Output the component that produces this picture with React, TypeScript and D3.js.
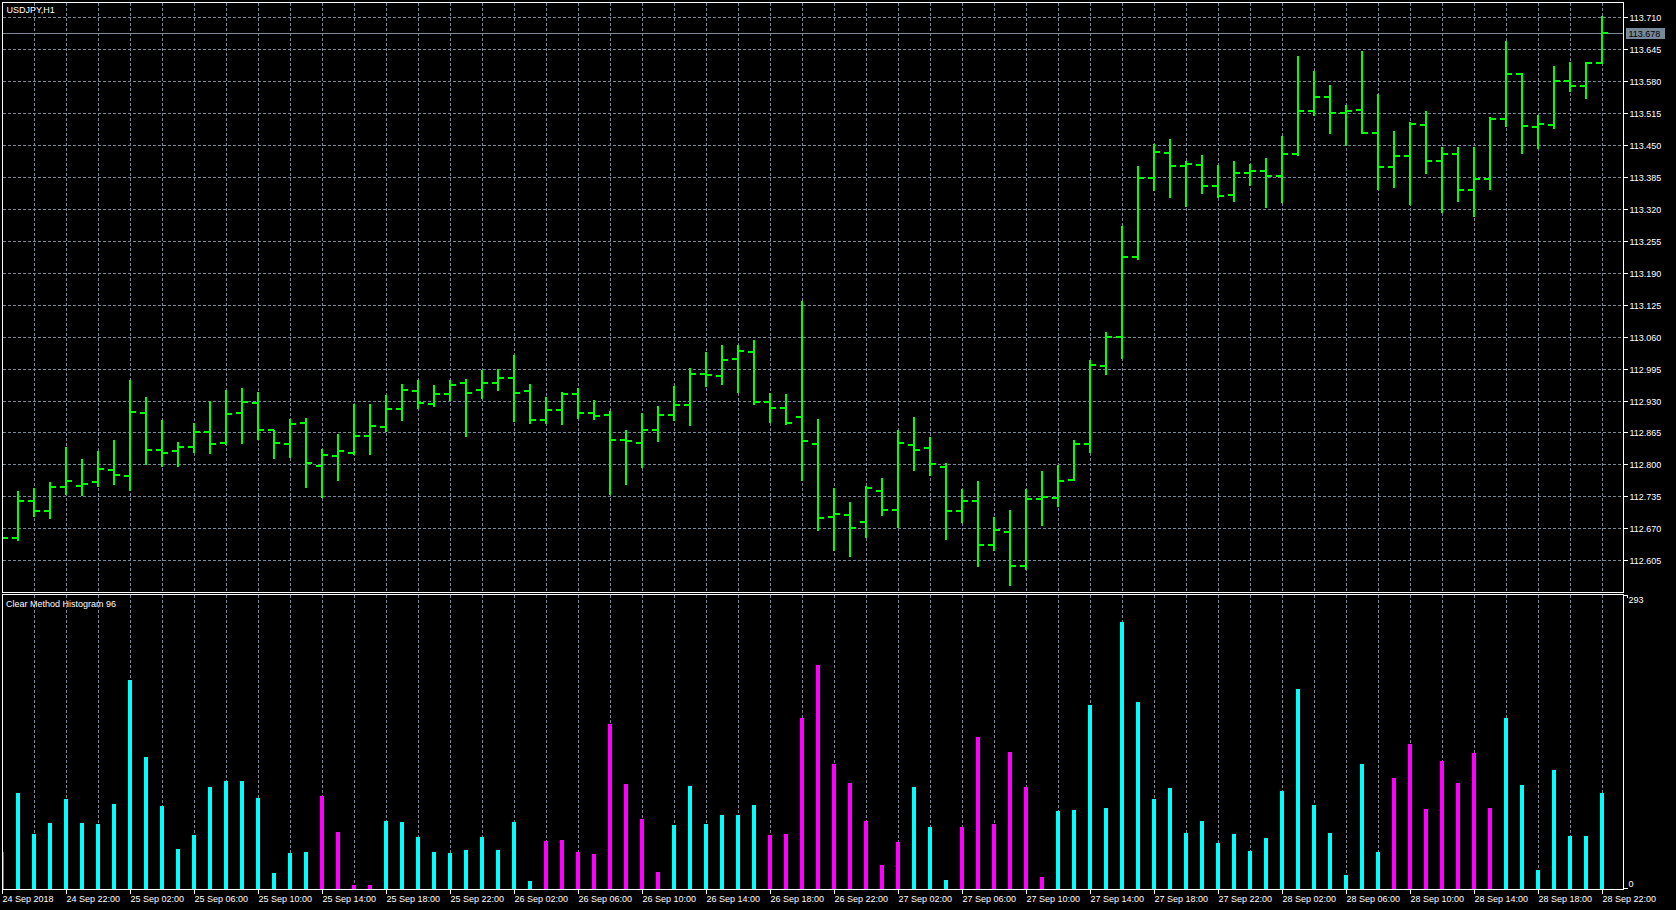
import React from "react";
import * as d3 from "d3";

// ---- Data (USDJPY H1, 24 Sep 2018 18:00 .. 28 Sep 2018 22:00) ----
const opens = [
  112.655, 112.650, 112.726, 112.706, 112.753, 112.757, 112.765, 112.789, 112.777, 112.905,
  112.830, 112.828, 112.836, 112.866, 112.844, 112.905, 112.925, 112.870, 112.842, 112.885,
  112.797, 112.818, 112.824, 112.858, 112.877, 112.913, 112.950, 112.923, 112.944, 112.966,
  112.952, 112.966, 112.976, 112.950, 112.891, 112.911, 112.944, 112.905, 112.901, 112.850,
  112.844, 112.870, 112.901, 112.921, 112.984, 112.980, 113.015, 113.029, 112.927, 112.915,
  112.897, 112.842, 112.692, 112.696, 112.682, 112.745, 112.708, 112.840, 112.834, 112.795,
  112.706, 112.726, 112.635, 112.663, 112.594, 112.730, 112.732, 112.769, 112.842, 113.000,
  113.059, 113.223, 113.382, 113.433, 113.407, 113.409, 113.366, 113.348, 113.394, 113.397,
  113.386, 113.431, 113.520, 113.547, 113.516, 113.522, 113.474, 113.405, 113.428, 113.490,
  113.417, 113.431, 113.358, 113.380, 113.502, 113.594, 113.486, 113.490, 113.581, 113.571,
  113.617,
];
const highs = [
  112.660, 112.746, 112.752, 112.764, 112.835, 112.811, 112.827, 112.849, 112.971, 112.937,
  112.890, 112.845, 112.884, 112.930, 112.951, 112.955, 112.947, 112.870, 112.892, 112.894,
  112.831, 112.862, 112.923, 112.923, 112.941, 112.963, 112.971, 112.961, 112.971, 112.973,
  112.992, 112.994, 113.022, 112.963, 112.937, 112.947, 112.956, 112.931, 112.909, 112.870,
  112.904, 112.919, 112.959, 112.996, 113.029, 113.042, 113.042, 113.053, 112.946, 112.943,
  113.132, 112.892, 112.752, 112.723, 112.756, 112.772, 112.870, 112.896, 112.856, 112.803,
  112.749, 112.766, 112.693, 112.707, 112.750, 112.786, 112.799, 112.849, 113.012, 113.069,
  113.286, 113.408, 113.453, 113.463, 113.418, 113.430, 113.409, 113.418, 113.411, 113.424,
  113.469, 113.631, 113.601, 113.573, 113.532, 113.642, 113.554, 113.479, 113.496, 113.520,
  113.445, 113.445, 113.447, 113.508, 113.662, 113.596, 113.512, 113.611, 113.619, 113.619,
  113.713,
];
const lows = [
  112.645, 112.646, 112.694, 112.690, 112.740, 112.738, 112.757, 112.761, 112.747, 112.801,
  112.797, 112.797, 112.826, 112.824, 112.841, 112.844, 112.852, 112.814, 112.816, 112.755,
  112.733, 112.769, 112.822, 112.822, 112.868, 112.891, 112.915, 112.919, 112.931, 112.858,
  112.935, 112.952, 112.889, 112.885, 112.885, 112.883, 112.895, 112.893, 112.740, 112.761,
  112.795, 112.848, 112.891, 112.881, 112.960, 112.964, 112.948, 112.923, 112.887, 112.883,
  112.769, 112.666, 112.625, 112.614, 112.653, 112.696, 112.673, 112.789, 112.779, 112.649,
  112.682, 112.594, 112.625, 112.554, 112.588, 112.677, 112.716, 112.769, 112.826, 112.984,
  113.017, 113.218, 113.358, 113.344, 113.325, 113.352, 113.344, 113.336, 113.368, 113.323,
  113.334, 113.429, 113.512, 113.474, 113.451, 113.474, 113.360, 113.364, 113.329, 113.394,
  113.313, 113.336, 113.305, 113.360, 113.488, 113.433, 113.443, 113.484, 113.561, 113.545,
  113.616,
];
const closes = [
  112.650, 112.726, 112.706, 112.753, 112.767, 112.761, 112.791, 112.779, 112.907, 112.830,
  112.823, 112.836, 112.866, 112.842, 112.903, 112.927, 112.870, 112.844, 112.883, 112.803,
  112.820, 112.828, 112.858, 112.879, 112.913, 112.952, 112.925, 112.944, 112.962, 112.946,
  112.966, 112.976, 112.946, 112.891, 112.911, 112.944, 112.905, 112.899, 112.850, 112.848,
  112.870, 112.901, 112.921, 112.984, 112.982, 113.013, 113.031, 112.927, 112.915, 112.885,
  112.848, 112.690, 112.700, 112.671, 112.751, 112.708, 112.844, 112.830, 112.801, 112.706,
  112.726, 112.635, 112.667, 112.594, 112.730, 112.734, 112.767, 112.842, 113.002, 113.059,
  113.223, 113.382, 113.435, 113.407, 113.411, 113.366, 113.346, 113.394, 113.397, 113.386,
  113.431, 113.520, 113.547, 113.516, 113.520, 113.474, 113.405, 113.428, 113.493, 113.417,
  113.431, 113.358, 113.380, 113.504, 113.594, 113.488, 113.492, 113.581, 113.571, 113.617,
  113.678,
];

// Histogram values and trend direction (1 = cyan, -1 = magenta)
const histValues = [
  37, 96, 55, 66, 90, 66, 65, 85, 208, 132,
  83, 40, 54, 102, 108, 108, 91, 16, 36, 37,
  93, 57, 4, 4, 68, 67, 52, 37, 36, 39,
  52, 39, 67, 8, 48, 49, 37, 35, 164, 105,
  70, 17, 64, 103, 65, 74, 74, 84, 54, 55,
  170, 223, 125, 106, 68, 24, 47, 102, 62, 9,
  62, 151, 65, 137, 102, 12, 78, 79, 183, 81,
  266, 186, 90, 101, 56, 68, 46, 55, 38, 51,
  98, 199, 84, 56, 14, 125, 37, 111, 145, 80,
  128, 106, 136, 81, 170, 104, 19, 119, 53, 53,
  96,
];
const histTrend = [
  -1, 1, 1, 1, 1, 1, 1, 1, 1, 1,
  1, 1, 1, 1, 1, 1, 1, 1, 1, 1,
  -1, -1, -1, -1, 1, 1, 1, 1, 1, 1,
  1, 1, 1, 1, -1, -1, -1, -1, -1, -1,
  -1, -1, 1, 1, 1, 1, 1, 1, -1, -1,
  -1, -1, -1, -1, -1, -1, -1, 1, 1, 1,
  -1, -1, -1, -1, -1, -1, 1, 1, 1, 1,
  1, 1, 1, 1, 1, 1, 1, 1, 1, 1,
  1, 1, 1, 1, 1, 1, 1, -1, -1, -1,
  -1, -1, -1, -1, 1, 1, 1, 1, 1, 1,
  1,
];

const priceTicks = [
  113.710, 113.645, 113.580, 113.515, 113.450, 113.385, 113.320, 113.255, 113.190,
  113.125, 113.060, 112.995, 112.930, 112.865, 112.800, 112.735, 112.670, 112.605,
];
const timeLabels = [
  "24 Sep 2018", "24 Sep 22:00", "25 Sep 02:00", "25 Sep 06:00", "25 Sep 10:00",
  "25 Sep 14:00", "25 Sep 18:00", "25 Sep 22:00", "26 Sep 02:00", "26 Sep 06:00",
  "26 Sep 10:00", "26 Sep 14:00", "26 Sep 18:00", "26 Sep 22:00", "27 Sep 02:00",
  "27 Sep 06:00", "27 Sep 10:00", "27 Sep 14:00", "27 Sep 18:00", "27 Sep 22:00",
  "28 Sep 02:00", "28 Sep 06:00", "28 Sep 10:00", "28 Sep 14:00", "28 Sep 18:00",
  "28 Sep 22:00",
];
const labelStep = 4;
const currentPrice = 113.678;
const histMax = 293;
const symbolTitle = "USDJPY,H1";
const indicatorTitle = "Clear Method Histogram 96";

// ---- Layout ----
const W = 1676;
const H = 910;
const left = 2.5;
const right = 1623.5;
const priceTop = 2.5;
const priceBottom = 592.5;
const histTop = 594.5;
const histBottom = 889.5;

const GRID = "#778899";
const BAR = "#00ff00";
const UP = "#00ffff";
const DOWN = "#ff00ff";
const FONT = "'Liberation Sans', Arial, sans-serif";

export default function App() {
  const n = closes.length;
  const x = d3.scaleLinear().domain([0, 100]).range([2, 1602]);
  const y = d3.scaleLinear().domain([112.605, 113.71]).range([560.2, 17.3]);
  const yh = d3.scaleLinear().domain([0, histMax]).range([889, 595]);
  const idx = d3.range(n);
  const gridIdx = idx.filter((i) => i % 2 === 0);
  const labelIdx = idx.filter((i) => i % labelStep === 0);
  const py = (v: number) => Math.round(y(v));
  const curY = Math.floor(y(currentPrice)) + 0.5;

  return (
    <svg
      width={W}
      height={H}
      style={{ position: "fixed", left: 0, top: 0, display: "block", background: "#000" }}
    >
      <rect x={0} y={0} width={W} height={H} fill="#000" />
      <defs>
        <clipPath id="pclip">
          <rect x={left} y={priceTop} width={right - left} height={priceBottom - priceTop} />
        </clipPath>
        <clipPath id="hclip">
          <rect x={left} y={histTop} width={right - left} height={histBottom - histTop} />
        </clipPath>
      </defs>

      {/* Price panel grid */}
      <g shapeRendering="crispEdges" stroke={GRID} strokeWidth={1} strokeDasharray="3,2">
        {priceTicks.map((t) => (
          <line key={"h" + t} x1={left} x2={right} y1={py(t) + 0.5} y2={py(t) + 0.5} />
        ))}
        {gridIdx.map((i) => (
          <line key={"v" + i} x1={Math.round(x(i)) + 0.5} x2={Math.round(x(i)) + 0.5} y1={priceTop} y2={priceBottom} />
        ))}
        {gridIdx.map((i) => (
          <line key={"hv" + i} x1={Math.round(x(i)) + 0.5} x2={Math.round(x(i)) + 0.5} y1={histTop} y2={histBottom} />
        ))}
      </g>

      {/* Current price line */}
      <line x1={left} x2={right} y1={curY} y2={curY} stroke={GRID} strokeWidth={1} shapeRendering="crispEdges" />

      {/* OHLC bars */}
      <g clipPath="url(#pclip)" fill={BAR} shapeRendering="crispEdges">
        {idx.map((i) => {
          const xc = Math.round(x(i));
          const yH = py(highs[i]);
          const yL = py(lows[i]);
          const yO = py(opens[i]);
          const yC = py(closes[i]);
          return (
            <g key={"b" + i}>
              <rect x={xc - 1} y={yH} width={2} height={Math.max(1, yL - yH + 1)} />
              <rect x={xc - 6} y={yO - 1} width={6} height={2} />
              <rect x={xc} y={yC - 1} width={6} height={2} />
            </g>
          );
        })}
      </g>

      {/* Histogram */}
      <g clipPath="url(#hclip)" shapeRendering="crispEdges">
        {idx.map((i) => {
          const xc = Math.round(x(i));
          const top = Math.round(yh(histValues[i]));
          return (
            <rect
              key={"hb" + i}
              x={xc - 2}
              y={top}
              width={4}
              height={yh(0) - top}
              fill={histTrend[i] > 0 ? UP : DOWN}
            />
          );
        })}
      </g>

      {/* Panel borders */}
      <g fill="none" stroke="#fff" strokeWidth={1} shapeRendering="crispEdges">
        <rect x={left} y={priceTop} width={right - left} height={priceBottom - priceTop} />
        <rect x={left} y={histTop} width={right - left} height={histBottom - histTop} />
      </g>

      {/* Price axis */}
      <g fontFamily={FONT} fontSize={9} fill="#fff">
        {priceTicks.map((t) => (
          <g key={"pt" + t}>
            <line x1={right} x2={right + 4} y1={py(t) + 0.5} y2={py(t) + 0.5} stroke="#fff" shapeRendering="crispEdges" />
            <text x={right + 6} y={py(t) + 0.5} dominantBaseline="central">
              {t.toFixed(3)}
            </text>
          </g>
        ))}
        <rect x={1626} y={curY - 5.5} width={39} height={11} fill={GRID} />
        <text x={1628.5} y={curY} dominantBaseline="central" fill="#000">
          {currentPrice.toFixed(3)}
        </text>
      </g>

      {/* Histogram axis */}
      <g fontFamily={FONT} fontSize={9} fill="#fff">
        <line x1={right} x2={right + 4} y1={histTop + 1} y2={histTop + 1} stroke="#fff" shapeRendering="crispEdges" />
        <line x1={right + 4} x2={right + 4} y1={histTop + 1} y2={histTop + 3} stroke="#fff" shapeRendering="crispEdges" />
        <text x={right + 5} y={599.5} dominantBaseline="central">{histMax}</text>
        <line x1={right} x2={right + 4} y1={histBottom - 1} y2={histBottom - 1} stroke="#fff" shapeRendering="crispEdges" />
        <text x={right + 5} y={883.5} dominantBaseline="central">0</text>
      </g>

      {/* Time axis */}
      <g fontFamily={FONT} fontSize={9} fill="#fff">
        {labelIdx.map((i, k) => {
          const xc = Math.round(x(i)) + 0.5;
          return (
            <g key={"tl" + i}>
              <line x1={xc} x2={xc} y1={histBottom} y2={histBottom + 4} stroke="#fff" shapeRendering="crispEdges" />
              <text x={xc} y={899} dominantBaseline="central">
                {timeLabels[k]}
              </text>
            </g>
          );
        })}
      </g>

      {/* Titles */}
      <g fontFamily={FONT} fontSize={9} fill="#fff">
        <text x={6.5} y={10} dominantBaseline="central">{symbolTitle}</text>
        <text x={6} y={603.5} dominantBaseline="central">{indicatorTitle}</text>
      </g>
    </svg>
  );
}
